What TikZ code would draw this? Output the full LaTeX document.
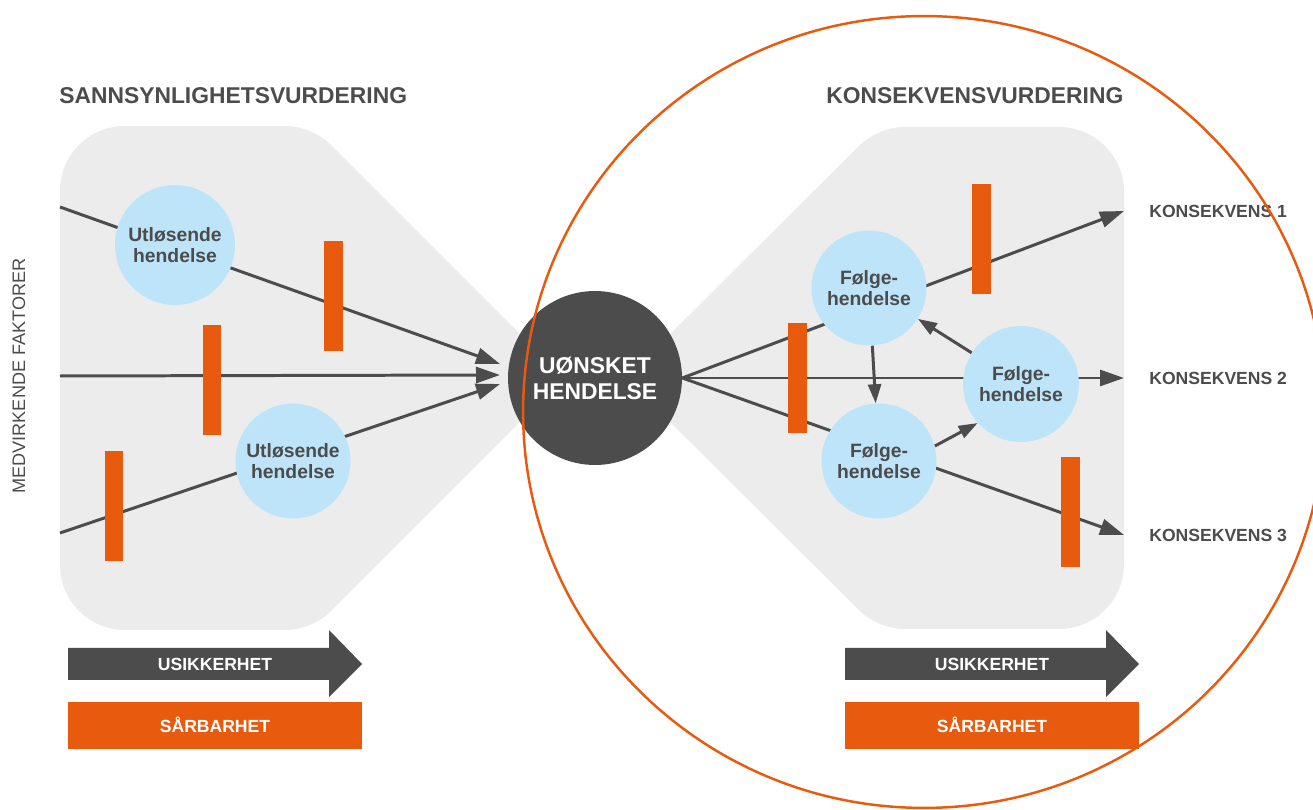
\documentclass[tikz,border=0pt]{standalone}
\usepackage{fontspec}
\setmainfont{Liberation Sans}
\usetikzlibrary{arrows.meta}

\definecolor{brandorange}{RGB}{232,91,15}
\definecolor{darkgrey}{RGB}{76,76,77}
\definecolor{panelgrey}{RGB}{236,236,236}
\definecolor{eventblue}{RGB}{189,228,248}

\pgfdeclarelayer{panels}
\pgfdeclarelayer{flows}
\pgfsetlayers{panels,flows,main}

\tikzset{
  event/.style={circle, fill=eventblue, text=darkgrey, minimum size=2.3cm, inner sep=0pt,
    align=center, font=\fontsize{11}{12}\selectfont\bfseries},
  hub/.style={circle, fill=darkgrey, text=white, minimum size=3.48cm, inner sep=0pt,
    align=center, font=\fontsize{13}{14.7}\selectfont\bfseries},
  barrier/.style={rectangle, fill=brandorange, minimum width=0.38cm, minimum height=2.22cm, inner sep=0pt},
  flow/.style={draw=darkgrey, line width=1.7pt, -{Triangle[length=0.48cm,width=0.32cm]}},
  link/.style={draw=darkgrey, line width=1.7pt, -{Triangle[length=0.38cm,width=0.26cm]}},
  heading/.style={inner sep=0pt, text=darkgrey, font=\fontsize{13}{15}\selectfont\bfseries},
  outcome/.style={inner sep=0pt, text=darkgrey, font=\fontsize{10}{12}\selectfont\bfseries},
  barlabel/.style={inner sep=0pt, text=white, font=\fontsize{10}{12}\selectfont\bfseries}
}

\begin{document}
\begin{tikzpicture}[x=0.02cm, y=-0.02cm]

  % Hintergrund und graue Flaechen
  \begin{pgfonlayer}{panels}
    \fill[white] (0,0) rectangle (1313,810);
    \fill[panelgrey] (564,378) [rounded corners=0.5cm] -- (312,126) [rounded corners=1.3cm] -- (60,126)
      -- (60,630) [rounded corners=0.5cm] -- (312,630) -- cycle;
    \fill[panelgrey] (626,378) [rounded corners=0.5cm] -- (878,127) [rounded corners=1.3cm] -- (1124,127)
      -- (1124,629) [rounded corners=0.5cm] -- (878,629) -- cycle;
  \end{pgfonlayer}
  \useasboundingbox (0,0) rectangle (1313,810);

  % Ueberschriften
  \node[heading, anchor=base west] (shead) at (59,104) {SANNSYNLIGHETSVURDERING};
  \node[heading, anchor=base west] (khead) at (826,104) {KONSEKVENSVURDERING};
  \node[text=darkgrey, inner sep=0pt, font=\fontsize{10.3}{12}\selectfont, rotate=90] (mfak) at (19,376) {MEDVIRKENDE FAKTORER};

  % Hendelser
  \node[event, minimum size=2.4cm] (ut1) at (175,245) {Utløsende\\hendelse};
  \node[event] (ut2) at (293,461) {Utløsende\\hendelse};
  \node[hub] (uh) at (595,378) {UØNSKET\\HENDELSE};
  \node[event] (fh1) at (869,288) {Følge-\\hendelse};
  \node[event] (fh2) at (879,461) {Følge-\\hendelse};
  \node[event, minimum size=2.32cm] (fh3) at (1021,384) {Følge-\\hendelse};

  % Konsekvenser
  \node[outcome, anchor=west] (k1) at (1149,211) {KONSEKVENS 1};
  \node[outcome, anchor=west] (k2) at (1149,378) {KONSEKVENS 2};
  \node[outcome, anchor=west] (k3) at (1149,535) {KONSEKVENS 3};

  % Barrierer
  \node[barrier] (b1) at (333,296) {};
  \node[barrier] (b2) at (212,380) {};
  \node[barrier] (b3) at (114,506) {};
  \node[barrier] (b4) at (797,378) {};
  \node[barrier] (b5) at (981,239) {};
  \node[barrier] (b6) at (1070,512) {};

  % Pfeile
  \coordinate (mf1) at (60,207);
  \coordinate (mf2) at (60,376);
  \coordinate (mf3) at (60,533);
  \coordinate (in1) at (500,364);
  \coordinate (in2) at (500,375);
  \coordinate (in3) at (500,384);
  \begin{pgfonlayer}{flows}
    \draw[flow] (mf1) -- (in1);
    \draw[flow] (mf2) -- (in2);
    \draw[flow] (mf3) -- (in3);
    \draw[flow] (uh.east) -- ([xshift=-0.5cm]k1.west);
    \draw[flow] (uh.east) -- ([xshift=-0.5cm]k2.west);
    \draw[flow] (uh.east) -- ([xshift=-0.5cm]k3.west);
  \end{pgfonlayer}
  \draw[link] (fh1) -- (fh2);
  \draw[link] (fh3) -- (fh1);
  \draw[link] (fh2.15) -- (fh3.222);

  % Usikkerhet und Saarbarhet
  \fill[darkgrey] (68,648) -- (329,648) -- (329,630) -- (362,664) -- (329,697) -- (329,680) -- (68,680) -- cycle;
  \fill[brandorange] (68,702) rectangle (362,749);
  \fill[darkgrey] (845,648) -- (1106,648) -- (1106,630) -- (1139,664) -- (1106,697) -- (1106,680) -- (845,680) -- cycle;
  \fill[brandorange] (845,702) rectangle (1139,749);
  \node[barlabel, anchor=base] (usik1) at (215,671) {USIKKERHET};
  \node[barlabel, anchor=base] (sarb1) at (215,733) {SÅRBARHET};
  \node[barlabel, anchor=base] (usik2) at (992,671) {USIKKERHET};
  \node[barlabel, anchor=base] (sarb2) at (992,733) {SÅRBARHET};

  % Konsekvensomraade
  \draw[brandorange, line width=1.4pt] (924,412) ellipse [x radius=8.02cm, y radius=7.92cm];

\end{tikzpicture}
\end{document}
